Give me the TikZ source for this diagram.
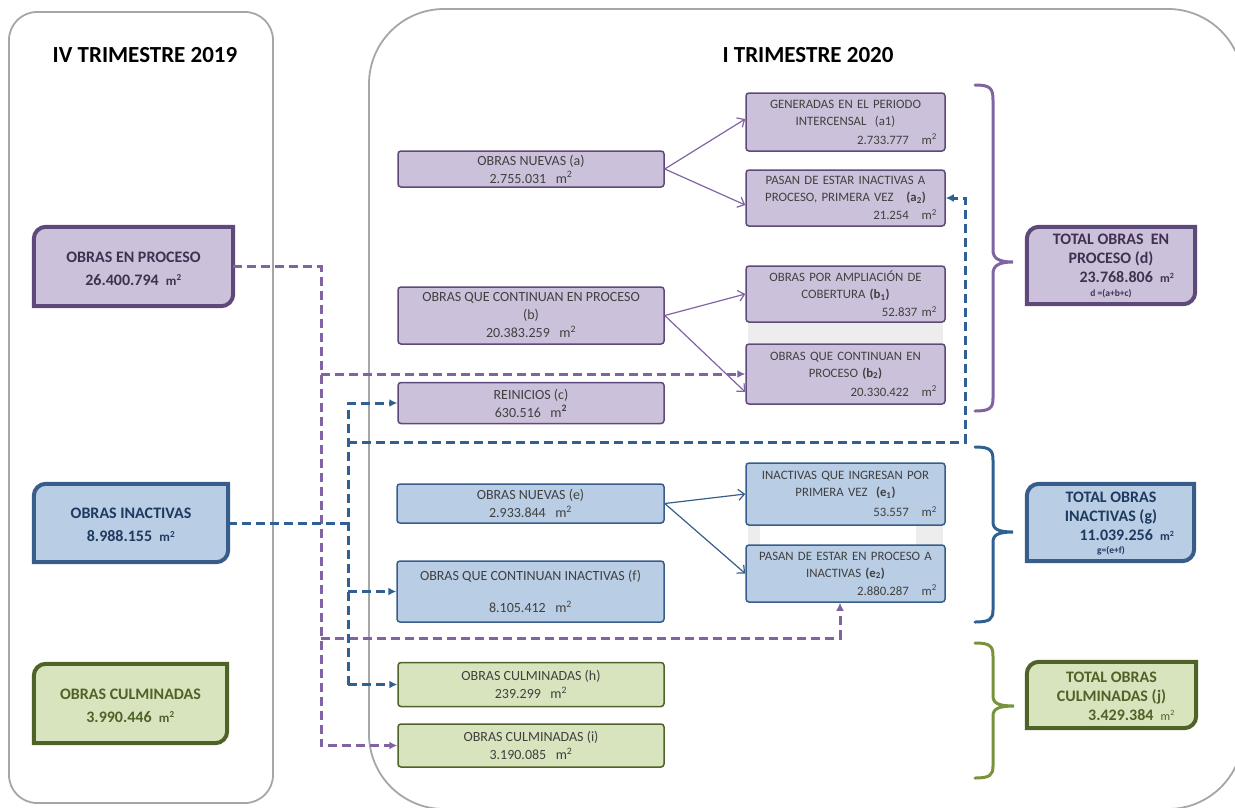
\documentclass[tikz,border=0pt]{standalone}
\usepackage{fontspec}
\setmainfont{Carlito}
\usetikzlibrary{arrows.meta}
\definecolor{pfill}{HTML}{CCC1DA}
\definecolor{pdark}{HTML}{5F497A}
\definecolor{pline}{HTML}{8064A2}
\definecolor{ptxt}{HTML}{3F3151}
\definecolor{bfill}{HTML}{B9CDE5}
\definecolor{bdark}{HTML}{385D8A}
\definecolor{bline}{HTML}{2F5F93}
\definecolor{btxt}{HTML}{1F3A5F}
\definecolor{gfill}{HTML}{D7E4BD}
\definecolor{gdark}{HTML}{4F6228}
\definecolor{gline}{HTML}{77933C}
\definecolor{gtxt}{HTML}{4F6228}
\definecolor{panelc}{HTML}{A6A6A6}
\definecolor{txt}{HTML}{404040}
\definecolor{stripc}{HTML}{EDEDED}
\newcommand{\midfont}{\fontsize{14}{18}\selectfont}
\newcommand{\rfont}{\fontsize{12.8}{17}\selectfont}
\newcommand{\bigfont}{\fontsize{16}{23}\selectfont\bfseries}
\newcommand{\totfont}{\fontsize{16}{19}\selectfont\bfseries}
\newcommand{\rnum}[1]{\makebox[183pt][r]{#1}}
\newcommand{\msq}{m\textsuperscript{2}}
\newcommand{\smsq}{{\fontsize{13}{13}\selectfont m\textsuperscript{2}}}
\newcommand{\diagframe}[3]{\filldraw[fill=#2,draw=#3,line width=4pt] (#1.west) {[rounded corners=12pt] -- (#1.north west) -- (#1.north)} -- (#1.north east) -- (#1.east) {[rounded corners=12pt] -- (#1.south east) -- (#1.south)} -- (#1.south west) -- cycle;}
\begin{document}
\begin{tikzpicture}[x=1pt,y=-1pt,
  panel/.style={draw=panelc,line width=1.8pt},
  title/.style={font=\fontsize{23}{26}\selectfont\bfseries,text=black},
  mbox/.style={line width=1.5pt,rounded corners=3pt,inner sep=0pt,align=center,text=txt,font=\midfont},
  pbox/.style={mbox,draw=pdark,fill=pfill},
  bbox/.style={mbox,draw=bdark,fill=bfill},
  gbox/.style={mbox,draw=gdark,fill=gfill},
  rbox/.style={text width=183pt,inner xsep=8pt,minimum width=199pt,font=\rfont},
  lbox/.style={draw=none,fill=none,inner sep=0pt},
  ltext/.style={align=center,font=\bigfont},
  ttext/.style={align=center,font=\totfont},
  parr/.style={draw=pline,line width=1.2pt,-{Straight Barb[length=6pt,width=11pt]}},
  barr/.style={draw=bdark,line width=1.2pt,-{Straight Barb[length=6pt,width=11pt]}},
  dsh/.style={line width=3pt,dash pattern=on 9pt off 5pt},
  pdash/.style={dsh,draw=pline},
  bdash/.style={dsh,draw=bline},
  tip/.style={-{Latex[length=8pt,width=8pt]}},
  brace/.style={line width=3pt,line cap=round}
]
\useasboundingbox (0,0) rectangle (1235,807);
% panels
\draw[panel,rounded corners=28pt] (9,12) rectangle (273,803);
\draw[panel,rounded corners=75pt] (369,9) rectangle (1243,809);
\node[title] (t1) at (145,55) {IV TRIMESTRE 2019};
\node[title] (t2) at (808,55) {I TRIMESTRE 2020};
% light strips
\fill[stripc] (748,322) rectangle (943,343);
\fill[stripc] (748,525) rectangle (760,545);
\fill[stripc] (916,525) rectangle (943,545);
% left boxes
\node[lbox,minimum width=199pt,minimum height=79pt] (LP) at (133.5,266.5) {};
\diagframe{LP}{pfill}{pdark}
\node[ltext,text=ptxt] (LPt) at (133.5,268.5) {OBRAS EN PROCESO\\26.400.794\ \ \smsq};
\node[lbox,minimum width=194pt,minimum height=78pt] (LI) at (131,523) {};
\diagframe{LI}{bfill}{bdark}
\node[ltext,text=btxt] (LIt) at (131,525) {OBRAS INACTIVAS\\8.988.155\ \ \smsq};
\node[lbox,minimum width=193pt,minimum height=79pt] (LC) at (130.5,703.5) {};
\diagframe{LC}{gfill}{gdark}
\node[ltext,text=gtxt] (LCt) at (130.5,705.5) {OBRAS CULMINADAS\\3.990.446\ \ \smsq};
% totals
\node[lbox,minimum width=168pt,minimum height=77pt] (TP) at (1111,265.5) {};
\diagframe{TP}{pfill}{pdark}
\node[ttext,text=ptxt] (TPt) at (1111,266) {TOTAL OBRAS\ \ EN\\PROCESO (d)\\\hspace*{32pt}23.768.806\ \ {\fontsize{12}{12}\selectfont\msq}\\[-5pt]{\fontsize{9.5}{11}\selectfont d =(a+b+c)}};
\node[lbox,minimum width=167pt,minimum height=77pt] (TI) at (1110.5,522.5) {};
\diagframe{TI}{bfill}{bdark}
\node[ttext,text=btxt] (TIt) at (1111,524) {TOTAL OBRAS\\INACTIVAS (g)\\\hspace*{32pt}11.039.256\ \ {\fontsize{12}{12}\selectfont\msq}\\[-6pt]{\fontsize{9.5}{11}\selectfont g=(e+f)}};
\node[lbox,minimum width=169pt,minimum height=66pt] (TC) at (1111.5,695) {};
\diagframe{TC}{gfill}{gdark}
\node[ttext,text=gtxt] (TCt) at (1111.5,696) {TOTAL OBRAS\\CULMINADAS (j)\\\hspace*{40pt}3.429.384\ \ {\fontsize{12}{12}\selectfont\mdseries\msq}};
% braces
\draw[brace,pline] (975,85) .. controls (990,85) and (993,88) .. (993,100) -- (993,250) .. controls (993,258) and (998,262) .. (1013,262) .. controls (998,262) and (993,266) .. (993,274) -- (993,398) .. controls (993,408) and (990,411) .. (975,411);
\draw[brace,bline] (975,447) .. controls (990,447) and (993,450) .. (993,460) -- (993,522) .. controls (993,529) and (998,532) .. (1013,532) .. controls (998,532) and (993,535) .. (993,542) -- (993,610) .. controls (993,619) and (990,622) .. (975,622);
\draw[brace,gline] (975,643) .. controls (990,643) and (993,646) .. (993,656) -- (993,696) .. controls (993,703) and (998,706) .. (1014,706) .. controls (998,706) and (993,709) .. (993,716) -- (993,766) .. controls (993,775) and (990,778) .. (975,778);
% middle boxes
\node[pbox,minimum width=266pt,minimum height=36pt] (a) at (531,169) {OBRAS NUEVAS (a)\\2.755.031\ \ \ \msq};
\node[pbox,rbox,minimum height=58pt] (a1) at (845.5,122) {GENERADAS EN EL PERIODO\\INTERCENSAL\ \ (a1)\\[2pt]\rnum{2.733.777\ \ \ \msq}};
\node[pbox,rbox,minimum height=56pt] (a2) at (845.5,198) {PASAN DE ESTAR INACTIVAS A\\PROCESO, PRIMERA VEZ\ \ \ \textbf{(a\textsubscript{2})}\\[1pt]\rnum{21.254\ \ \ \msq}};
\node[pbox,minimum width=266pt,minimum height=57pt] (b) at (531,315.5) {OBRAS QUE CONTINUAN EN PROCESO\\(b)\\20.383.259\ \ \ \msq};
\node[pbox,rbox,minimum height=56pt] (b1) at (845.5,294) {OBRAS POR AMPLIACIÓN DE\\COBERTURA \textbf{(b\textsubscript{1})}\\[1pt]\rnum{52.837 \msq}};
\node[pbox,rbox,minimum height=60pt] (b2) at (845.5,374) {OBRAS QUE CONTINUAN EN\\PROCESO \textbf{(b\textsubscript{2})}\\[2pt]\rnum{20.330.422\ \ \ \msq}};
\node[pbox,minimum width=266pt,minimum height=41pt] (c) at (531,403) {REINICIOS (c)\\630.516\ \ \ m\textsuperscript{\textbf{2}}};
\node[bbox,minimum width=267pt,minimum height=39pt] (e) at (530.5,503.5) {OBRAS NUEVAS (e)\\2.933.844\ \ \ \msq};
\node[bbox,rbox,minimum height=62pt] (e1) at (845.5,494) {INACTIVAS QUE INGRESAN POR\\PRIMERA VEZ\ \ \textbf{(e\textsubscript{1})}\\[3pt]\rnum{53.557\ \ \ \msq}};
\node[bbox,rbox,minimum height=57pt] (e2) at (845.5,573.5) {PASAN DE ESTAR EN PROCESO A\\INACTIVAS \textbf{(e\textsubscript{2})}\\[1pt]\rnum{2.880.287\ \ \ \msq}};
\node[bbox,minimum width=267pt,minimum height=61pt] (f) at (530.5,591.5) {OBRAS QUE CONTINUAN INACTIVAS (f)\\[14pt]8.105.412\ \ \ \msq};
\node[gbox,minimum width=266pt,minimum height=44pt] (h) at (531,684.5) {OBRAS CULMINADAS (h)\\239.299\ \ \ \msq};
\node[gbox,minimum width=266pt,minimum height=43pt] (i) at (531,745.5) {OBRAS CULMINADAS (i)\\3.190.085\ \ \ \msq};
% thin arrows
\draw[parr] (a.east) -- ([yshift=3pt]a1.west);
\draw[parr] (a.east) -- ([yshift=-7pt]a2.west);
\draw[parr] (b.east) -- (b1.west);
\draw[parr] (b.east) -- ([yshift=-18pt]b2.west);
\draw[barr] (e.east) -- (e1.west);
\draw[barr] (e.east) -- (e2.west);
% dashed purple
\coordinate (px) at (321,0);
\coordinate (pe) at (840,638);
\draw[pdash,tip] (LP.east) -| (px |- i.west) -- (i.west);
\draw[pdash,tip] (px |- b2.west) -- (b2.west);
\draw[pdash,tip] (px |- pe) -- (pe) -- (pe |- e2.south);
% dashed blue
\coordinate (bx) at (348,0);
\coordinate (ba) at (965,442);
\draw[bdash] (LI.east) -- (bx |- LI.east);
\draw[bdash,tip] (bx |- h.west) -- (bx |- c.west) -- (c.west);
\draw[bdash,tip] (bx |- h.west) -- (h.west);
\draw[bdash,tip] (bx |- f.west) -- (f.west);
\draw[bdash,tip] (bx |- ba) -- (ba) |- (a2.east);
\end{tikzpicture}
\end{document}
